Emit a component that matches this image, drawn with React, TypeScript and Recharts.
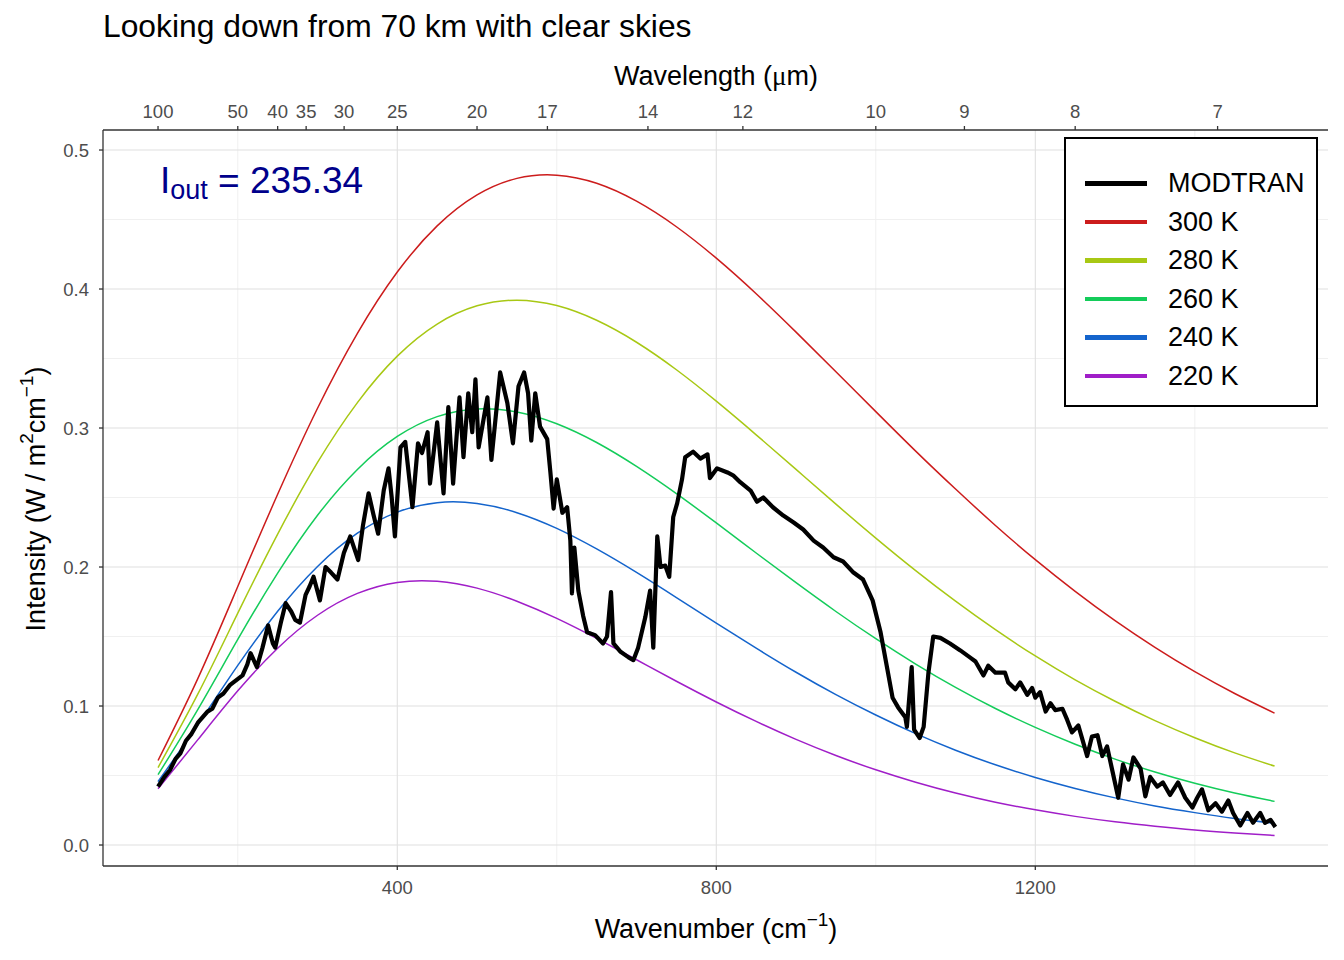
import React from "react";
import { LineChart, Line, XAxis, YAxis, CartesianGrid, Legend } from "recharts";

// blackbody curves, every 50 cm^-1
const wavenumbers = [
  100, 150, 200, 250, 300, 350, 400, 450, 500, 550, 600, 650, 700, 750, 800,
  850, 900, 950, 1000, 1050, 1100, 1150, 1200, 1250, 1300, 1350, 1400, 1450, 1500,
];
const planck300 = [
  0.0608, 0.1199, 0.186, 0.2523, 0.3142, 0.3681, 0.4122, 0.4454, 0.4677, 0.4796, 0.4819, 0.4761, 0.4632, 0.4448, 0.4222,
  0.3966, 0.369, 0.3405, 0.3118, 0.2834, 0.2561, 0.2299, 0.2053, 0.1825, 0.1614, 0.1422, 0.1247, 0.109, 0.0949,
];
const planck280 = [
  0.0557, 0.1087, 0.1668, 0.2237, 0.2752, 0.3183, 0.3517, 0.3748, 0.3879, 0.392, 0.3881, 0.3775, 0.3617, 0.3419, 0.3193,
  0.2951, 0.2702, 0.2452, 0.2208, 0.1974, 0.1754, 0.1549, 0.136, 0.1188, 0.1034, 0.0895, 0.0772, 0.0663, 0.0568,
];
const planck260 = [
  0.0506, 0.0976, 0.1479, 0.1956, 0.2372, 0.2702, 0.2939, 0.3082, 0.3137, 0.3116, 0.3031, 0.2896, 0.2724, 0.2528, 0.2317,
  0.2101, 0.1887, 0.168, 0.1484, 0.1302, 0.1134, 0.0982, 0.0846, 0.0725, 0.0618, 0.0525, 0.0444, 0.0374, 0.0314,
];
const planck240 = [
  0.0456, 0.0866, 0.1292, 0.1682, 0.2004, 0.2243, 0.2395, 0.2463, 0.2457, 0.2391, 0.2278, 0.213, 0.1961, 0.178, 0.1596,
  0.1416, 0.1243, 0.1082, 0.0935, 0.0801, 0.0682, 0.0577, 0.0486, 0.0407, 0.0339, 0.0281, 0.0233, 0.0191, 0.0157,
];
const planck220 = [
  0.0405, 0.0758, 0.1109, 0.1416, 0.1653, 0.181, 0.1889, 0.1897, 0.1848, 0.1754, 0.163, 0.1486, 0.1333, 0.1178, 0.1029,
  0.0889, 0.076, 0.0644, 0.0541, 0.0452, 0.0374, 0.0308, 0.0253, 0.0206, 0.0167, 0.0135, 0.0108, 0.0087, 0.0069,
];

// MODTRAN spectrum (traced peaks and troughs)
const modtranNu = [
  100, 108, 115, 122, 128, 135, 142, 150, 156, 162, 168, 175, 182, 190, 199, 206, 212, 216, 224, 231,
  238, 244, 247, 254, 260, 267, 272, 278, 285, 290, 295, 303, 310, 317, 325, 333, 341, 351, 357, 364,
  370, 376, 383, 389, 393, 397, 404, 410, 419, 426, 431, 438, 441, 450, 458, 464, 470, 478, 483, 489,
  494, 498, 502, 513, 518, 529, 538, 545, 552, 559, 564, 568, 573, 579, 588, 592, 596, 600, 607, 613,
  617, 619, 622, 627, 633, 638, 648, 658, 663, 668, 671, 680, 690, 696, 702, 711, 717, 721, 726, 730,
  736, 741, 746, 751, 757, 761, 771, 780, 789, 792, 801, 814, 821, 830, 843, 851, 859, 871, 884, 897,
  909, 922, 934, 947, 959, 972, 984, 996, 1006, 1014, 1021, 1028, 1037, 1039, 1045, 1048, 1055, 1060, 1066, 1072,
  1081, 1093, 1106, 1118, 1125, 1135, 1141, 1150, 1162, 1166, 1175, 1181, 1190, 1196, 1200, 1206, 1213, 1219, 1225, 1234,
  1240, 1246, 1254, 1260, 1265, 1271, 1278, 1284, 1290, 1296, 1304, 1310, 1317, 1323, 1332, 1338, 1344, 1353, 1360, 1369,
  1379, 1388, 1397, 1403, 1409, 1417, 1426, 1434, 1442, 1448, 1457, 1466, 1473, 1482, 1488, 1495, 1501,
];
const modtranI = [
  0.042, 0.049, 0.054, 0.062, 0.066, 0.075, 0.08, 0.088, 0.092, 0.096, 0.098, 0.106, 0.109, 0.115, 0.119, 0.122, 0.13, 0.138, 0.128, 0.142,
  0.158, 0.145, 0.142, 0.16, 0.174, 0.168, 0.162, 0.16, 0.18, 0.186, 0.193, 0.176, 0.2, 0.196, 0.191, 0.21, 0.222, 0.205, 0.23, 0.253,
  0.238, 0.224, 0.255, 0.271, 0.25, 0.222, 0.286, 0.29, 0.243, 0.289, 0.282, 0.297, 0.26, 0.304, 0.253, 0.315, 0.26, 0.322, 0.279, 0.325,
  0.297, 0.335, 0.286, 0.322, 0.277, 0.34, 0.318, 0.289, 0.33, 0.34, 0.325, 0.291, 0.325, 0.301, 0.292, 0.268, 0.242, 0.263, 0.239, 0.243,
  0.219, 0.181, 0.214, 0.183, 0.165, 0.153, 0.151, 0.145, 0.15, 0.182, 0.145, 0.139, 0.135, 0.133, 0.142, 0.164, 0.183, 0.142, 0.222, 0.2,
  0.201, 0.193, 0.236, 0.246, 0.263, 0.279, 0.283, 0.278, 0.281, 0.264, 0.271, 0.268, 0.266, 0.261, 0.255, 0.247, 0.25, 0.243, 0.237, 0.232,
  0.227, 0.219, 0.214, 0.207, 0.204, 0.196, 0.191, 0.176, 0.153, 0.128, 0.106, 0.099, 0.092, 0.085, 0.128, 0.083, 0.077, 0.085, 0.124, 0.15,
  0.149, 0.145, 0.14, 0.135, 0.132, 0.122, 0.129, 0.124, 0.124, 0.117, 0.112, 0.117, 0.108, 0.113, 0.106, 0.11, 0.096, 0.102, 0.097, 0.098,
  0.09, 0.081, 0.086, 0.074, 0.064, 0.078, 0.079, 0.064, 0.071, 0.055, 0.034, 0.058, 0.047, 0.063, 0.055, 0.035, 0.049, 0.042, 0.045, 0.036,
  0.045, 0.034, 0.027, 0.034, 0.04, 0.025, 0.03, 0.024, 0.032, 0.023, 0.014, 0.023, 0.016, 0.023, 0.016, 0.018, 0.013,
];

// top axis: wavelength in micrometres
const topWavelengths = [100, 50, 40, 35, 30, 25, 20, 17, 14, 12, 10, 9, 8, 7];
const bottomTicks = [400, 800, 1200];
const yTicks = [0, 0.1, 0.2, 0.3, 0.4, 0.5];
const xMinor = [200, 600, 1000, 1400];
const yMinor = [0.05, 0.15, 0.25, 0.35, 0.45];

const series = [
  { key: "t300", name: "300 K", color: "#CC1C1C", values: planck300 },
  { key: "t280", name: "280 K", color: "#A8C814", values: planck280 },
  { key: "t260", name: "260 K", color: "#14CC5A", values: planck260 },
  { key: "t240", name: "240 K", color: "#1464CC", values: planck240 },
  { key: "t220", name: "220 K", color: "#A01EC8", values: planck220 },
];

const planckData = wavenumbers.map((nu, i) => {
  const row: Record<string, number> = { nu };
  series.forEach((s) => (row[s.key] = s.values[i]));
  return row;
});
const modtranData = modtranNu.map((nu, i) => ({ nu, modtran: modtranI[i] }));

const topTicks = topWavelengths.map((w) => 10000 / w);
const xDomain = [31, 1567];
const yDomain = [-0.0151, 0.5144];

const FONT = "'Liberation Sans', Arial, sans-serif";
const tickStyle = { fill: "#4D4D4D", fontSize: 18.5 };

function LegendBox() {
  const items = [{ name: "MODTRAN", color: "#000000" }, ...series];
  return (
    <div
      style={{
        boxSizing: "border-box",
        width: 254,
        height: 270,
        border: "2px solid #000",
        background: "#fff",
        paddingTop: 25,
        fontFamily: FONT,
      }}
    >
      {items.map((it) => (
        <div key={it.name} style={{ display: "flex", alignItems: "center", height: 38.5 }}>
          <div style={{ marginLeft: 19, width: 62, height: 4.5, background: it.color }} />
          <span style={{ marginLeft: 21, fontSize: 27, color: "#000", lineHeight: "38.5px" }}>{it.name}</span>
        </div>
      ))}
    </div>
  );
}

export default function App() {
  return (
    <div style={{ position: "absolute", left: 0, top: 0, width: 1344, height: 960, background: "#fff", fontFamily: FONT }}>
      <LineChart width={1344} height={960} data={planckData} margin={{ top: 100, right: 16, bottom: 64, left: 53 }}>
        <CartesianGrid
          xAxisId="bottom"
          yAxisId="left"
          verticalValues={xMinor}
          horizontalValues={yMinor}
          stroke="#F0F0F0"
          strokeWidth={1}
        />
        <CartesianGrid
          xAxisId="bottom"
          yAxisId="left"
          verticalValues={bottomTicks}
          horizontalValues={yTicks}
          stroke="#E0E0E0"
          strokeWidth={1.1}
        />
        <XAxis
          xAxisId="bottom"
          dataKey="nu"
          type="number"
          domain={xDomain}
          allowDataOverflow
          ticks={bottomTicks}
          height={30}
          tick={tickStyle}
          tickSize={4}
          tickMargin={11}
          axisLine={{ stroke: "#333333", strokeWidth: 1.3 }}
          tickLine={{ stroke: "#333333", strokeWidth: 1.3 }}
        />
        <XAxis
          xAxisId="top"
          orientation="top"
          dataKey="nu"
          type="number"
          domain={xDomain}
          allowDataOverflow
          ticks={topTicks}
          interval={0}
          tickFormatter={(v: number) => String(Math.round(10000 / v))}
          height={30}
          tick={tickStyle}
          tickSize={4}
          tickMargin={8}
          axisLine={{ stroke: "#333333", strokeWidth: 1.3 }}
          tickLine={{ stroke: "#333333", strokeWidth: 1.3 }}
        />
        <YAxis
          yAxisId="left"
          type="number"
          domain={yDomain}
          allowDataOverflow
          ticks={yTicks}
          interval={0}
          tickFormatter={(v: number) => v.toFixed(1)}
          width={50}
          tick={tickStyle}
          tickSize={4}
          tickMargin={10}
          axisLine={{ stroke: "#333333", strokeWidth: 1.3 }}
          tickLine={{ stroke: "#333333", strokeWidth: 1.3 }}
        />
        <YAxis
          yAxisId="right"
          orientation="right"
          type="number"
          domain={yDomain}
          width={0}
          tick={false}
          tickLine={false}
          axisLine={{ stroke: "#333333", strokeWidth: 1.3 }}
        />
        {series.map((s) => (
          <Line
            key={s.key}
            xAxisId="bottom"
            yAxisId="left"
            type="natural"
            dataKey={s.key}
            name={s.name}
            stroke={s.color}
            strokeWidth={1.5}
            dot={false}
            isAnimationActive={false}
          />
        ))}
        <Line
          xAxisId="bottom"
          yAxisId="left"
          data={modtranData}
          type="linear"
          dataKey="modtran"
          name="MODTRAN"
          stroke="#000000"
          strokeWidth={4.2}
          strokeLinejoin="round"
          dot={false}
          isAnimationActive={false}
        />
        <Legend
          layout="vertical"
          align="center"
          verticalAlign="middle"
          content={() => <LegendBox />}
          wrapperStyle={{ position: "absolute", left: 1064, top: 137, width: 254, height: 270 }}
        />
      </LineChart>
      <svg
        width={1344}
        height={960}
        style={{ position: "absolute", left: 0, top: 0, pointerEvents: "none", fontFamily: FONT }}
      >
        <text x={103} y={37} fontSize={31.8} fill="#000">
          Looking down from 70 km with clear skies
        </text>
        <text x={716} y={85} fontSize={27} fill="#000" textAnchor="middle">
          Wavelength (<tspan fontFamily="'Liberation Serif', 'DejaVu Serif', serif">μ</tspan>m)
        </text>
        <text x={716} y={938} fontSize={27} fill="#000" textAnchor="middle">
          Wavenumber (cm
          <tspan fontSize={19} dy={-12}>−1</tspan>
          <tspan dy={12}>)</tspan>
        </text>
        <text x={45} y={499} fontSize={27} fill="#000" textAnchor="middle" transform="rotate(-90 45 499)">
          Intensity (W / m<tspan fontSize={19} dy={-12}>2</tspan>
          <tspan dy={12}>cm</tspan>
          <tspan fontSize={19} dy={-12}>−1</tspan>
          <tspan dy={12}>)</tspan>
        </text>
        <text x={160} y={193} fontSize={37} fill="#00008B">
          I<tspan fontSize={27} dy={6}>out</tspan>
          <tspan dy={-6}> = 235.34</tspan>
        </text>
      </svg>
    </div>
  );
}
